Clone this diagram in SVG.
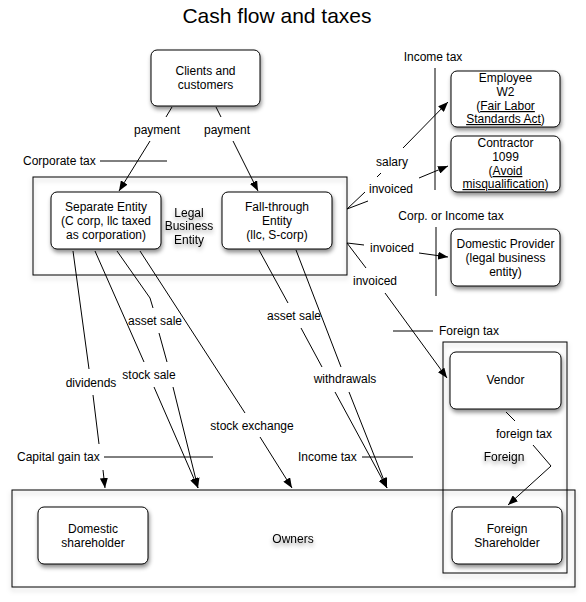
<svg xmlns="http://www.w3.org/2000/svg" width="586" height="602" viewBox="0 0 586 602">
<defs>
<filter id="sh" x="-20%" y="-20%" width="140%" height="150%">
<feDropShadow dx="1" dy="3" stdDeviation="2" flood-color="#000" flood-opacity="0.45"/>
</filter>
<filter id="csh" x="-10%" y="-10%" width="120%" height="130%">
<feDropShadow dx="0" dy="3" stdDeviation="2.5" flood-color="#000" flood-opacity="0.25"/>
</filter>
<filter id="tsh" x="-30%" y="-50%" width="160%" height="220%">
<feDropShadow dx="0" dy="3" stdDeviation="2" flood-color="#000" flood-opacity="0.4"/>
</filter>
<marker id="ah" viewBox="0 0 10 8" refX="10" refY="4" markerWidth="10" markerHeight="8" markerUnits="userSpaceOnUse" orient="auto">
<path d="M0,0 L10,4 L0,8 Z" fill="#000"/>
</marker>
</defs>
<style>
text{font-family:"Liberation Sans",Arial,sans-serif;font-size:12px;fill:#000}
.title{font-size:21px}
.c{text-anchor:middle}
.node{fill:#fff;stroke:#000;stroke-width:1}
.cont{fill:none;stroke:#000;stroke-width:1}
.ln{fill:none;stroke:#000;stroke-width:1}
.arr{fill:none;stroke:#000;stroke-width:1;marker-end:url(#ah)}
.u{text-decoration:underline}
</style>
<rect width="586" height="602" fill="#fff"/>
<text class="title c" x="277" y="23">Cash flow and taxes</text>

<g id="containers">
<g id="legal-business-entity">
<rect class="cont" x="33" y="177" width="314" height="98" filter="url(#csh)"/>
<text class="c" x="189" y="217" filter="url(#tsh)">Legal</text>
<text class="c" x="189" y="230" filter="url(#tsh)">Business</text>
<text class="c" x="189" y="244" filter="url(#tsh)">Entity</text>
</g>
<g id="owners">
<rect class="cont" x="12" y="490" width="563" height="97" filter="url(#csh)"/>
<text class="c" x="293" y="543" filter="url(#tsh)">Owners</text>
</g>
<g id="foreign">
<rect class="cont" x="443" y="342" width="124" height="231" filter="url(#csh)"/>
<text class="c" x="504" y="461" filter="url(#tsh)">Foreign</text>
</g>
</g>

<g id="tax-labels">
<text x="23" y="165">Corporate tax</text>
<line class="ln" x1="100" y1="161" x2="167" y2="161"/>
<text class="c" x="433" y="61">Income tax</text>
<line class="ln" x1="435" y1="68" x2="435" y2="190"/>
<text class="c" x="451" y="220">Corp. or Income tax</text>
<line class="ln" x1="436" y1="227" x2="436" y2="296"/>
<text x="439" y="335">Foreign tax</text>
<line class="ln" x1="393" y1="331" x2="433" y2="331"/>
<text x="17" y="461">Capital gain tax</text>
<line class="ln" x1="104" y1="457" x2="213" y2="457"/>
<text x="298" y="461">Income tax</text>
<line class="ln" x1="362" y1="457" x2="413" y2="457"/>
</g>

<g id="connectors">
<path class="ln" d="M172,107 L166,117"/>
<path class="arr" d="M150,141 L119,191"/>
<text class="c" x="157" y="134">payment</text>
<path class="ln" d="M216,107 L221,117"/>
<path class="arr" d="M233,141 L258,191"/>
<text class="c" x="227" y="134">payment</text>

<path class="arr" d="M347,209 L365,192 M377,177 L381,173 M403,148 L448,102"/>
<text class="c" x="392" y="166">salary</text>
<path class="arr" d="M347,209 L368,201 M419,178 L448,166"/>
<text class="c" x="391" y="193">invoiced</text>
<path class="arr" d="M347,243 L364,245 M419,253 L448,257"/>
<text class="c" x="392" y="252">invoiced</text>
<path class="arr" d="M347,243 L366,268 M385,293 L447,378"/>
<text class="c" x="375" y="285">invoiced</text>

<path class="arr" d="M506,412 L515,421 M533,445 L551,466 L508,505"/>
<text class="c" x="524" y="438">foreign tax</text>

<path class="arr" d="M73,251 L89,369 M93,395 L99,444 M103,470 L105,488"/>
<text class="c" x="91" y="387">dividends</text>
<path class="arr" d="M95,251 L144,362 M154,387 L198,488"/>
<text class="c" x="149" y="379">stock sale</text>
<path class="arr" d="M117,251 L150,298 L153,308 M159,333 L167,362 M173,387 L198,488"/>
<text class="c" x="155" y="325">asset sale</text>
<path class="arr" d="M140,251 L245,413 M260,437 L292,488"/>
<text class="c" x="252" y="430">stock exchange</text>
<path class="arr" d="M259,250 L288,303 M301,328 L322,367 M335,392 L387,488"/>
<text class="c" x="294" y="320">asset sale</text>
<path class="arr" d="M296,250 L341,367 M349,392 L387,488"/>
<text class="c" x="345" y="383">withdrawals</text>
</g>

<g id="clients">
<rect class="node" x="151" y="50" width="109" height="56" rx="6" filter="url(#sh)"/>
<text class="c" x="205.5" y="75">Clients and</text>
<text class="c" x="205.5" y="89">customers</text>
</g>
<g id="separate-entity">
<rect class="node" x="51" y="192" width="110" height="57" rx="6" filter="url(#sh)"/>
<text class="c" x="106" y="211">Separate Entity</text>
<text class="c" x="106" y="225">(C corp, llc taxed</text>
<text class="c" x="106" y="239">as corporation)</text>
</g>
<g id="fall-through-entity">
<rect class="node" x="222" y="192" width="110" height="57" rx="6" filter="url(#sh)"/>
<text class="c" x="277" y="211">Fall-through</text>
<text class="c" x="277" y="225">Entity</text>
<text class="c" x="277" y="239">(llc, S-corp)</text>
</g>
<g id="employee">
<rect class="node" x="451" y="71" width="109" height="56" rx="6" filter="url(#sh)"/>
<text class="c" x="505.5" y="82">Employee</text>
<text class="c" x="505.5" y="96">W2</text>
<text class="c" x="505.5" y="110">(<tspan class="u">Fair Labor</tspan></text>
<text class="c" x="505.5" y="123"><tspan class="u">Standards Act</tspan>)</text>
</g>
<g id="contractor">
<rect class="node" x="451" y="136" width="109" height="56" rx="6" filter="url(#sh)"/>
<text class="c" x="505.5" y="147">Contractor</text>
<text class="c" x="505.5" y="161">1099</text>
<text class="c" x="505.5" y="175">(<tspan class="u">Avoid</tspan></text>
<text class="c" x="505.5" y="188"><tspan class="u">misqualification</tspan>)</text>
</g>
<g id="domestic-provider">
<rect class="node" x="451" y="229" width="109" height="57" rx="6" filter="url(#sh)"/>
<text class="c" x="505.5" y="248">Domestic Provider</text>
<text class="c" x="505.5" y="262">(legal business</text>
<text class="c" x="505.5" y="276">entity)</text>
</g>
<g id="vendor">
<rect class="node" x="450" y="352" width="111" height="57" rx="6" filter="url(#sh)"/>
<text class="c" x="505.5" y="384">Vendor</text>
</g>
<g id="domestic-shareholder">
<rect class="node" x="38" y="507" width="110" height="57" rx="6" filter="url(#sh)"/>
<text class="c" x="93" y="533">Domestic</text>
<text class="c" x="93" y="547">shareholder</text>
</g>
<g id="foreign-shareholder">
<rect class="node" x="452" y="507" width="110" height="57" rx="6" filter="url(#sh)"/>
<text class="c" x="507" y="533">Foreign</text>
<text class="c" x="507" y="547">Shareholder</text>
</g>
</svg>
